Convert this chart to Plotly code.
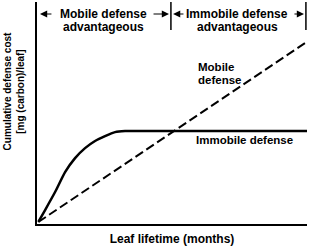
import plotly.graph_objects as go

# Leaf lifetime (months) and cumulative defense cost (arbitrary units)
immobile_x = [0.05, 0.30, 0.67, 1.04, 1.41, 1.78, 2.15, 2.52, 2.89, 3.26, 4.0, 10.0]
immobile_y = [0.10, 0.63, 1.44, 2.34, 2.97, 3.42, 3.74, 3.96, 4.14, 4.19, 4.19, 4.19]
mobile_x = [0.05, 9.93]
mobile_y = [0.09, 8.15]

crossover_x = 4.96
end_x = 9.96

FONT = "Liberation Sans, Arial, Helvetica, sans-serif"

fig = go.Figure()
fig.add_trace(go.Scatter(x=immobile_x, y=immobile_y, mode="lines",
                         line=dict(color="black", width=2.5, shape="spline", smoothing=0.6),
                         showlegend=False, hoverinfo="skip"))
fig.add_trace(go.Scatter(x=mobile_x, y=mobile_y, mode="lines",
                         line=dict(color="black", width=2, dash="9px,4px"),
                         showlegend=False, hoverinfo="skip"))

# Divider lines at top
for xv in [crossover_x, end_x]:
    fig.add_shape(type="line", xref="x", yref="y", x0=xv, x1=xv, y0=8.74, y1=10,
                  line=dict(color="black", width=1.5))

ann = []
def arrow(head, tail, y=9.46):
    ann.append(dict(x=head, y=y, ax=tail, ay=y, xref="x", yref="y", axref="x", ayref="y",
                    text="", showarrow=True, arrowhead=2, arrowsize=1.2, arrowwidth=1.2,
                    arrowcolor="black"))

arrow(0.11, 0.59)
arrow(4.89, 4.26)
arrow(5.04, 5.48)
arrow(9.89, 9.48)

def label(text, x, y, size=12, xanchor="center"):
    ann.append(dict(x=x, y=y, xref="x", yref="y", text=text, showarrow=False,
                    xanchor=xanchor, yanchor="middle",
                    font=dict(family=FONT, size=size, color="black", weight="bold")))

label("Mobile defense", 2.48, 9.46)
label("advantageous", 2.48, 8.87)
label("Immobile defense", 7.41, 9.46)
label("advantageous", 7.41, 8.87)
label("Mobile", 5.89, 7.07, size=11.5, xanchor="left")
label("defense", 5.89, 6.49, size=11.5, xanchor="left")
label("Immobile defense", 7.7, 3.78, size=11.5)

ann.append(dict(x=-0.087, y=0.595, xref="paper", yref="paper", textangle=-90,
                text="Cumulative defense cost<br>[mg (carbon)/leaf]", showarrow=False,
                xanchor="center", yanchor="middle",
                font=dict(family=FONT, size=10, color="black", weight="bold")))

fig.update_layout(
    width=331, height=251,
    margin=dict(l=37, r=24, t=2, b=27),
    paper_bgcolor="white", plot_bgcolor="white",
    annotations=ann,
    xaxis=dict(range=[0, 10], showline=True, linewidth=2, linecolor="black",
               showgrid=False, zeroline=False, showticklabels=False, ticks="",
               title=dict(text="Leaf lifetime (months)", standoff=10,
                          font=dict(family=FONT, size=12, color="black", weight="bold"))),
    yaxis=dict(range=[0, 10], showline=True, linewidth=2, linecolor="black",
               showgrid=False, zeroline=False, showticklabels=False, ticks=""),
)

fig.write_html("out.html")
